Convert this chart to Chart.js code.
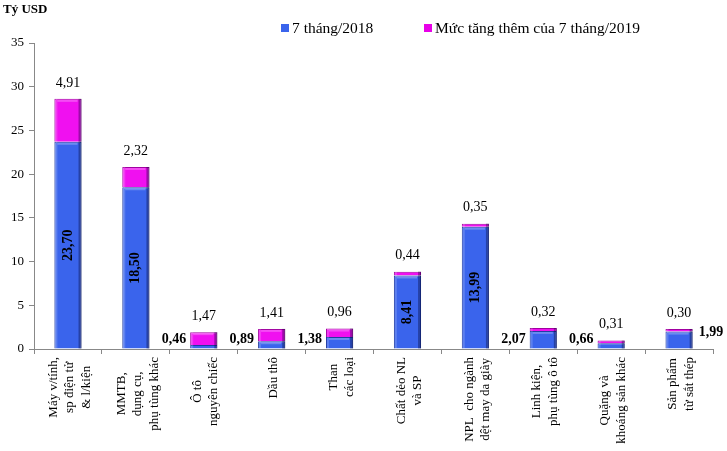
<!DOCTYPE html>
<html>
<head>
<meta charset="utf-8">
<script src="https://cdn.jsdelivr.net/npm/chart.js@4/dist/chart.umd.min.js"></script>
<style>
  body { margin: 0; background: #fff; }
  #wrap { width: 727px; height: 451px; }
</style>
</head>
<body>
<div id="wrap"><canvas id="importChart" width="727" height="451"></canvas></div>
<script>
// nhóm hàng (nhãn trục x, mỗi phần tử là các dòng)
const categories = [
    ['Máy v/tính,', 'sp điện tử', '& l/kiện'],
    ['MMTB,', 'dụng cụ,', 'phụ tùng khác'],
    ['Ô tô', 'nguyên chiếc'],
    ['Dầu thô'],
    ['Than', 'các loại'],
    ['Chất dẻo NL', 'và SP'],
    ['NPL  cho ngành', 'dệt may da giày'],
    ['Linh kiện,', 'phụ tùng ô tô'],
    ['Quặng và', 'khoáng sản khác'],
    ['Sản phẩm', 'từ sắt thép']
];
const base2018 = [23.70, 18.50, 0.46, 0.89, 1.38, 8.41, 13.99, 2.07, 0.66, 1.99];
const increase2019 = [4.91, 2.32, 1.47, 1.41, 0.96, 0.44, 0.35, 0.32, 0.31, 0.30];
const yTicks = [0, 5, 10, 15, 20, 25, 30, 35];
// where the 2018 value is written: in the bar, left of it, right of it
const baseLabelPos = ['in', 'in', 'left', 'left', 'left', 'in', 'in', 'left', 'left', 'right'];

const FONT = "'Liberation Serif', 'Times New Roman', serif";
const fmt = v => v.toFixed(2).replace('.', ',');

// fake the bevelled look of the original bars
const bevel = {
    id: 'bevel',
    afterDatasetsDraw(chart) {
        const ctx = chart.ctx;
        ctx.save();
        [0, 1].forEach(d => {
            chart.getDatasetMeta(d).data.forEach(b => {
                const left = b.x - b.width / 2;
                const right = b.x + b.width / 2;
                const top = b.y;
                const h = b.base - b.y;
                if (h <= 0) return;
                ctx.fillStyle = 'rgba(0,0,40,0.35)';
                ctx.fillRect(right - 3, top, 3, h);
                ctx.fillStyle = 'rgba(255,255,255,0.18)';
                ctx.fillRect(left + 1, top, 2, h);
                if (h > 6) {
                    ctx.fillStyle = 'rgba(255,255,255,0.25)';
                    ctx.fillRect(left + 3, top + 1, b.width - 7, 2);
                }
            });
        });
        ctx.restore();
    }
};

const valueLabels = {
    id: 'valueLabels',
    afterDatasetsDraw(chart) {
        const ctx = chart.ctx;
        const m0 = chart.getDatasetMeta(0);
        const m1 = chart.getDatasetMeta(1);
        ctx.save();
        ctx.fillStyle = '#000';
        for (let i = 0; i < base2018.length; i++) {
            const b0 = m0.data[i];
            const b1 = m1.data[i];
            // increase, above the stack
            ctx.font = '14px ' + FONT;
            ctx.textAlign = 'center';
            ctx.textBaseline = 'middle';
            ctx.fillText(fmt(increase2019[i]), b1.x, b1.y - 16);

            ctx.font = 'bold 14px ' + FONT;
            const half = b0.width / 2;
            if (baseLabelPos[i] === 'in') {
                ctx.save();
                ctx.translate(b0.x, (b0.y + b0.base) / 2);
                ctx.rotate(-Math.PI / 2);
                ctx.fillText(fmt(base2018[i]), 0, 0);
                ctx.restore();
            } else if (baseLabelPos[i] === 'left') {
                ctx.textAlign = 'right';
                ctx.fillText(fmt(base2018[i]), b0.x - half - 4, b0.base - 9);
            } else {
                ctx.textAlign = 'left';
                ctx.fillText(fmt(base2018[i]), b0.x + half + 6, b0.base - 16);
            }
        }
        ctx.restore();
    }
};

const categoryLabels = {
    id: 'categoryLabels',
    afterDraw(chart) {
        const ctx = chart.ctx;
        const xs = chart.scales.x;
        const bottom = chart.chartArea.bottom;
        ctx.save();
        ctx.font = '13px ' + FONT;
        ctx.fillStyle = '#000';
        ctx.textAlign = 'center';
        ctx.textBaseline = 'middle';
        categories.forEach((lines, i) => {
            const x = xs.getPixelForValue(i) + 2;
            const maxW = Math.max(...lines.map(l => ctx.measureText(l).width));
            ctx.save();
            ctx.translate(x, bottom + 8 + maxW / 2);
            ctx.rotate(-Math.PI / 2);
            lines.forEach((l, j) => {
                ctx.fillText(l, 0, (j - (lines.length - 1) / 2) * 16.5);
            });
            ctx.restore();
        });
        ctx.restore();
    }
};

const headerAndLegend = {
    id: 'headerAndLegend',
    afterDraw(chart) {
        const ctx = chart.ctx;
        ctx.save();
        ctx.fillStyle = '#000';
        ctx.textBaseline = 'middle';
        ctx.textAlign = 'left';
        ctx.font = 'bold 13px ' + FONT;
        ctx.fillText('Tỷ USD', 3, 10);

        ctx.font = '15.5px ' + FONT;
        const items = [
            { x: 281, color: '#3a64ec', text: '7 tháng/2018' },
            { x: 424, color: '#e800e8', text: 'Mức tăng thêm của 7 tháng/2019' }
        ];
        items.forEach(it => {
            ctx.fillStyle = it.color;
            ctx.fillRect(it.x, 24, 8, 8);
            ctx.fillStyle = '#000';
            ctx.fillText(it.text, it.x + 11, 29);
        });
        ctx.restore();
    }
};

new Chart(document.getElementById('importChart'), {
    type: 'bar',
    data: {
        labels: categories.map(c => c.join(' ')),
        datasets: [{
            label: '7 tháng/2018',
            data: base2018,
            backgroundColor: '#3a64ec',
            borderColor: '#1f3aa0',
            borderWidth: 1,
            barPercentage: 0.4,
            categoryPercentage: 1
        }, {
            label: 'Mức tăng thêm của 7 tháng/2019',
            data: increase2019,
            backgroundColor: '#f010f0',
            borderColor: '#a000a0',
            borderWidth: 1,
            barPercentage: 0.4,
            categoryPercentage: 1
        }]
    },
    options: {
        responsive: false,
        animation: false,
        layout: { padding: { top: 43, right: 14, left: 0, bottom: 0 } },
        plugins: {
            legend: { display: false },
            tooltip: { enabled: false }
        },
        scales: {
            x: {
                stacked: true,
                grid: { display: true, drawOnChartArea: false, offset: true, tickLength: 5, color: '#888' },
                border: { color: '#888', width: 1 },
                ticks: { display: false },
                afterFit: s => { s.height = 102; }
            },
            y: {
                stacked: true,
                min: 0,
                max: 35,
                afterBuildTicks: s => { s.ticks = yTicks.map(v => ({ value: v })); },
                grid: { display: true, drawOnChartArea: false, tickLength: 5, color: '#888' },
                border: { color: '#888', width: 1 },
                ticks: {
                    color: '#000',
                    padding: 5,
                    font: { family: FONT, size: 13 }
                },
                afterFit: s => { s.width = 34; }
            }
        }
    },
    plugins: [bevel, valueLabels, categoryLabels, headerAndLegend]
});
</script>
</body>
</html>
